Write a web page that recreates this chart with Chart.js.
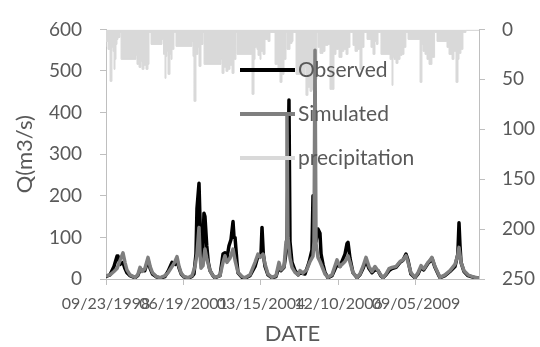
<!DOCTYPE html>
<html>
<head>
<meta charset="utf-8">
<script src="https://cdn.jsdelivr.net/npm/chart.js@4.4.1/dist/chart.umd.min.js"></script>
<style>
  html, body { margin: 0; padding: 0; background: #fff; }
  #wrap { width: 540px; height: 347px; position: relative; }
</style>
</head>
<body>
<div id="wrap"><canvas id="flow-chart"></canvas></div>
<script>
// x values are days after 09/23/1998
const tickDays = [0, 1000, 2000, 3000, 4000];
const tickLabels = ['09/23/1998', '06/19/2001', '03/15/2004', '12/10/2006', '09/05/2009'];

const obsDays = [0,52,103,142,155,181,219,245,270,310,374,
  410,439,500,542,570,600,650,697,
  761,800,852,890,916,940,970,1006,1058,
  1110,1135,1161,1174,1200,1226,1245,1264,1277,1300,1320,1342,1380,1406,
  1471,1510,1535,1560,1587,1613,1639,1652,1665,1690,1703,1755,1794,
  1858,1923,1961,2000,2013,2030,2052,2090,2142,
  2194,2232,2258,2297,2335,2361,2374,2400,2439,2480,
  2503,2568,2620,2658,2671,2684,2710,2735,2761,2775,2800,2826,2865,
  2916,2981,3019,3084,3110,3123,3148,3187,3239,
  3277,3316,3355,3394,3432,3471,3510,3545,3574,
  3613,3652,3690,3742,3794,3832,3871,3897,3935,3987,
  4026,4065,4100,4155,4180,4206,4245,4290,4310,
  4374,4439,4503,4540,4555,4568,4581,4619,4671,4761,4813];
const obsFlow = [6,10,30,55,55,35,40,25,15,8,3,
  8,22,20,45,25,12,5,2,
  6,18,40,35,45,28,12,5,2,
  6,12,60,170,230,55,40,158,150,80,40,20,8,3,
  8,60,63,50,80,95,138,100,100,40,15,4,2,
  8,30,55,60,124,60,30,10,3,
  6,30,20,28,80,430,90,40,20,10,
  15,12,40,70,200,90,90,120,110,60,35,15,3,
  8,35,30,60,85,88,50,15,3,
  10,25,45,25,15,22,20,8,3,
  10,20,25,28,40,45,60,45,12,3,
  12,28,22,38,42,50,28,10,3,
  8,18,30,60,135,80,40,18,8,3,2];

const simDays = [0,52,103,142,181,219,245,270,310,374,
  410,439,465,500,542,570,600,650,697,
  761,800,852,890,916,940,970,1006,1058,
  1110,1148,1174,1200,1213,1226,1252,1277,1300,1342,1380,1406,
  1471,1510,1535,1560,1600,1639,1665,1703,1755,1794,
  1858,1923,1961,1990,2026,2052,2090,2142,
  2194,2232,2258,2297,2323,2335,2348,2374,2400,2439,2480,
  2503,2540,2590,2632,2671,2684,2697,2710,2735,2761,2787,2826,2865,
  2916,2981,3019,3084,3123,3148,3187,3239,
  3277,3316,3355,3394,3432,3471,3510,3545,3574,
  3613,3652,3690,3742,3794,3832,3871,3897,3935,3987,
  4026,4065,4100,4155,4180,4206,4245,4290,4310,
  4374,4439,4503,4540,4555,4581,4619,4671,4723,4761,4813];
const simFlow = [8,10,18,25,45,63,40,22,10,4,
  10,28,18,24,52,30,15,6,3,
  8,15,30,42,54,32,14,6,3,
  8,30,60,124,60,26,32,72,50,20,8,4,
  8,40,56,40,50,72,45,16,6,3,
  10,40,60,52,60,36,12,4,
  8,40,22,30,90,392,100,50,28,16,10,
  20,14,22,42,55,90,550,85,52,42,30,12,4,
  10,46,30,42,56,40,15,4,
  12,30,52,30,18,30,20,10,3,
  12,25,28,30,42,46,56,40,15,4,
  15,32,24,40,45,52,30,12,4,
  10,20,35,58,76,40,20,10,6,4,2];

const rainDays = [0,26,52,77,90,103,116,129,142,155,181,194,
  387,400,426,452,465,490,516,542,555,581,
  723,742,761,774,787,800,826,839,852,877,903,
  1110,1122,1135,1161,1187,1200,1226,1252,1265,
  1484,1497,1523,1548,1574,1600,1626,1652,1677,1690,
  1884,1910,1923,1948,1961,1987,2000,2026,2052,2090,2116,2181,
  2219,2245,2271,2297,2323,2335,2374,2400,2413,2452,
  2568,2580,2606,2632,2658,2697,2722,2735,
  2761,2800,2826,2864,2890,2942,2968,3006,3045,3070,3097,3123,3148,3187,
  3213,3245,3277,3303,3329,3368,3419,3445,3471,3490,3510,3548,
  3665,3690,3703,3716,3742,3768,3794,3820,3845,3870,3897,
  4052,4077,4090,4116,4142,4168,4206,4240,4271,
  4400,4426,4465,4490,4516,4542,4555,4580,4606,4645,4761,4813];
const rainMm = [17,12,20,52,18,22,40,30,15,10,8,3,
  30,26,35,38,32,40,36,40,35,3,
  15,10,25,49,27,22,45,25,30,20,3,
  17,12,27,72,25,18,37,15,3,
  35,30,44,38,42,40,36,44,30,3,
  25,65,30,18,20,26,30,22,25,10,12,3,
  35,42,53,45,30,3,20,14,12,3,
  45,38,66,58,62,60,50,3,
  18,24,22,16,15,60,25,20,28,22,20,25,18,3,
  16,22,20,40,18,3,10,18,25,12,15,3,
  25,30,56,28,30,34,30,26,25,18,3,
  10,53,15,22,25,30,35,28,3,
  12,18,25,30,22,53,30,24,20,3,1,1];

const toPoints = (xs, ys) => xs.map((x, i) => ({ x: x, y: ys[i] }));

const textColor = '#595959';
const axisColor = '#bfbfbf';

const ctx = document.getElementById('flow-chart').getContext('2d');
const flowChart = new Chart(ctx, {
  type: 'line',
  data: {
    datasets: [{
      label: 'Observed',
      data: toPoints(obsDays, obsFlow),
      borderColor: '#000000',
      borderWidth: 3.5,
      yAxisID: 'y',
      order: 1
    }, {
      label: 'Simulated',
      data: toPoints(simDays, simFlow),
      borderColor: '#7f7f7f',
      borderWidth: 3.5,
      yAxisID: 'y',
      order: 0
    }, {
      label: 'precipitation',
      data: toPoints(rainDays, rainMm),
      borderColor: '#d9d9d9',
      backgroundColor: '#d9d9d9',
      borderWidth: 1,
      stepped: 'after',
      fill: 'origin',
      yAxisID: 'y1',
      order: 2
    }]
  },
  options: {
    responsive: true,
    maintainAspectRatio: false,
    animation: false,
    layout: { padding: { top: 27, left: 0, right: 0, bottom: 0 } },
    elements: {
      point: { radius: 0 },
      line: { tension: 0, borderJoinStyle: 'round', borderCapStyle: 'round' }
    },
    plugins: { legend: { display: false }, tooltip: { enabled: false } },
    scales: {
      x: {
        type: 'linear',
        min: 0,
        max: 4813,
        grid: { drawOnChartArea: false, color: axisColor, tickLength: 6 },
        border: { color: axisColor },
        afterBuildTicks: (s) => { s.ticks = tickDays.map(d => ({ value: d })); },
        ticks: {
          autoSkip: false,
          maxRotation: 0,
          minRotation: 0,
          padding: 9,
          color: textColor,
          font: { family: 'Lato', size: 16 },
          callback: (v) => tickLabels[tickDays.indexOf(v)]
        },
        title: { display: true, text: 'DATE', color: textColor,
                 font: { family: 'Lato', size: 22 }, padding: { top: 0, bottom: 0 } },
        afterFit: (s) => { s.height = 68; }
      },
      y: {
        position: 'left',
        min: 0,
        max: 600,
        grid: { drawOnChartArea: false, color: axisColor, tickLength: 6 },
        border: { color: axisColor },
        ticks: { stepSize: 100, padding: 18, color: textColor, font: { family: 'Lato', size: 19 } },
        title: { display: true, text: 'Q(m3/s)', color: textColor,
                 font: { family: 'Lato', size: 22 }, padding: { top: 12, bottom: 0 } },
        afterFit: (s) => { s.width = 106; }
      },
      y1: {
        position: 'right',
        reverse: true,
        min: 0,
        max: 250,
        grid: { drawOnChartArea: false, color: axisColor, tickLength: 6 },
        border: { color: axisColor },
        ticks: { stepSize: 50, padding: 17, color: textColor, font: { family: 'Lato', size: 19 } },
        afterFit: (s) => { s.width = 61; }
      }
    }
  },
  plugins: [{
    id: 'insideLegend',
    afterDraw(chart) {
      const c = chart.ctx;
      const left = chart.chartArea.left + 134;
      c.save();
      c.font = '21px Lato';
      c.textBaseline = 'middle';
      c.lineWidth = 4;
      [0, 1, 2].forEach((idx, i) => {
        const ds = chart.data.datasets[idx];
        const y = 70 + i * 44;
        c.strokeStyle = ds.borderColor;
        c.beginPath();
        c.moveTo(left, y);
        c.lineTo(left + 55, y);
        c.stroke();
        c.fillStyle = textColor;
        c.fillText(ds.label, left + 58, y);
      });
      c.restore();
    }
  }]
});
</script>
</body>
</html>
